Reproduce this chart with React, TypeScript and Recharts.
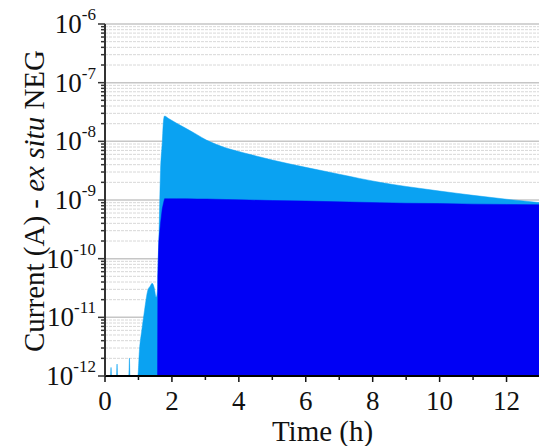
import { AreaChart, Area, XAxis, YAxis, CartesianGrid } from 'recharts';

const font = '"Liberation Serif", "Times New Roman", serif';

// time in hours
const times = [
  0, 0.165, 0.18, 0.195, 0.345, 0.36, 0.375, 0.715, 0.73, 0.745,
  0.98, 1.03, 1.1, 1.18, 1.28, 1.35, 1.41, 1.47, 1.53, 1.57,
  1.58, 1.61, 1.66, 1.71, 1.75, 1.78, 1.9, 2.13, 2.43, 2.75,
  3.03, 3.3, 3.62, 4.0, 4.32, 5, 6, 7, 8.21, 9,
  10, 11, 12, 13,
];

// envelope (light blue)
const lightCurrent = [
  1e-12, 1e-12, 1.4e-12, 1e-12, 1e-12, 1.6e-12, 1e-12, 1e-12, 2e-12, 1e-12,
  1e-12, 2.8e-12, 6e-12, 1.3e-11, 2.9e-11, 3.4e-11, 3.8e-11, 3.2e-11, 2.2e-11, 3e-11,
  6e-11, 2.1e-10, 3.2e-9, 9.3e-9, 2.3e-8, 2.7e-8, 2.45e-8, 2.05e-8, 1.65e-8, 1.3e-8,
  1.05e-8, 9.0e-9, 7.7e-9, 6.7e-9, 6.0e-9, 4.8e-9, 3.6e-9, 2.75e-9, 2.0e-9, 1.7e-9,
  1.42e-9, 1.2e-9, 1.03e-9, 9e-10,
];

// baseline level (dark blue)
const darkCurrent = [
  null, null, null, null, null, null, null, null, null, null,
  null, null, null, null, null, null, null, null, null, 1e-12,
  5e-11, 2e-10, 4e-10, 7e-10, 9e-10, 1.05e-9, 1.05e-9, 1.05e-9, 1.05e-9, 1.04e-9,
  1.04e-9, 1.03e-9, 1.02e-9, 1.01e-9, 1.0e-9, 9.8e-10, 9.6e-10, 9.3e-10, 9.0e-10, 8.8e-10,
  8.7e-10, 8.5e-10, 8.4e-10, 8.3e-10,
];

const xTicks = [0, 1, 2, 3, 4, 5, 6, 7, 8, 9, 10, 11, 12, 13];
const decades = [1e-12, 1e-11, 1e-10, 1e-9, 1e-8, 1e-7, 1e-6];
const minorTicks = decades.slice(0, -1).flatMap((d) => [2, 3, 4, 5, 6, 7, 8, 9].map((m) => m * d));

const data = times.map((t, i) => ({ t, light: lightCurrent[i], dark: darkCurrent[i] }));

function YTick({ x, y, payload }: any) {
  const v = payload.value;
  const lg = Math.log10(v);
  const exp = Math.round(lg);
  const major = Math.abs(lg - exp) < 1e-6;
  return (
    <g>
      <line x1={x} x2={x - (major ? 7 : 4)} y1={y} y2={y} stroke="#333" strokeWidth={1.5} />
      {major && (
        <text x={x - 9} y={y + 9} textAnchor="end" fontFamily={font} fontSize={27} fill="#111">
          10
          <tspan dy={-13} fontSize={17}>{exp}</tspan>
        </text>
      )}
    </g>
  );
}

function XTick({ x, y, payload }: any) {
  const v = payload.value;
  const major = v % 2 === 0;
  return (
    <g>
      <line x1={x} x2={x} y1={y} y2={y + (major ? 6 : 4)} stroke="#111" strokeWidth={1.5} />
      {major && (
        <text x={x} y={y + 34} textAnchor="middle" fontFamily={font} fontSize={27} fill="#111">
          {v}
        </text>
      )}
    </g>
  );
}

function YLabel() {
  const cx = 44;
  const cy = 201;
  return (
    <text
      x={cx}
      y={cy}
      textAnchor="middle"
      fontFamily={font}
      fontSize={29}
      fill="#111"
      transform={`rotate(-90, ${cx}, ${cy})`}
    >
      Current (A) - <tspan fontStyle="italic">ex situ</tspan> NEG
    </text>
  );
}

function XLabel({ viewBox }: any) {
  return (
    <text
      x={viewBox.x + viewBox.width / 2}
      y={441}
      textAnchor="middle"
      fontFamily={font}
      fontSize={29}
      fill="#111"
    >
      Time (h)
    </text>
  );
}

export default function App() {
  return (
    <div style={{ position: 'absolute', left: 0, top: 0, width: 539, height: 446, overflow: 'hidden', background: '#fff' }}>
      <AreaChart width={541} height={446} data={data} margin={{ top: 24, right: 1, bottom: 0, left: 0 }}>
        <CartesianGrid vertical={false} horizontalValues={minorTicks} stroke="#d8d8d8" strokeDasharray="3 1" />
        <CartesianGrid vertical={false} horizontalValues={decades} stroke="#c6c6c6" strokeWidth={1.5} />
        <XAxis
          dataKey="t"
          type="number"
          domain={[0, 13]}
          ticks={xTicks}
          interval={0}
          allowDataOverflow
          height={70}
          tickSize={0}
          tickMargin={0}
          tick={<XTick />}
          axisLine={{ stroke: '#000', strokeWidth: 2 }}
          label={<XLabel />}
        />
        <YAxis
          scale="log"
          type="number"
          domain={[1e-12, 1e-6]}
          ticks={[...decades, ...minorTicks]}
          interval={0}
          allowDataOverflow
          width={105}
          tickSize={0}
          tickMargin={0}
          tick={<YTick />}
          axisLine={{ stroke: '#333', strokeWidth: 2 }}
          label={<YLabel />}
        />
        <Area
          type="monotone"
          dataKey="light"
          baseValue={1e-12}
          stroke="#0aa2f2"
          strokeWidth={0.5}
          fill="#0aa2f2"
          fillOpacity={1}
          isAnimationActive={false}
        />
        <Area
          type="linear"
          dataKey="dark"
          baseValue={1e-12}
          stroke="#0000f5"
          strokeWidth={0.5}
          fill="#0000f5"
          fillOpacity={1}
          isAnimationActive={false}
        />
      </AreaChart>
    </div>
  );
}
